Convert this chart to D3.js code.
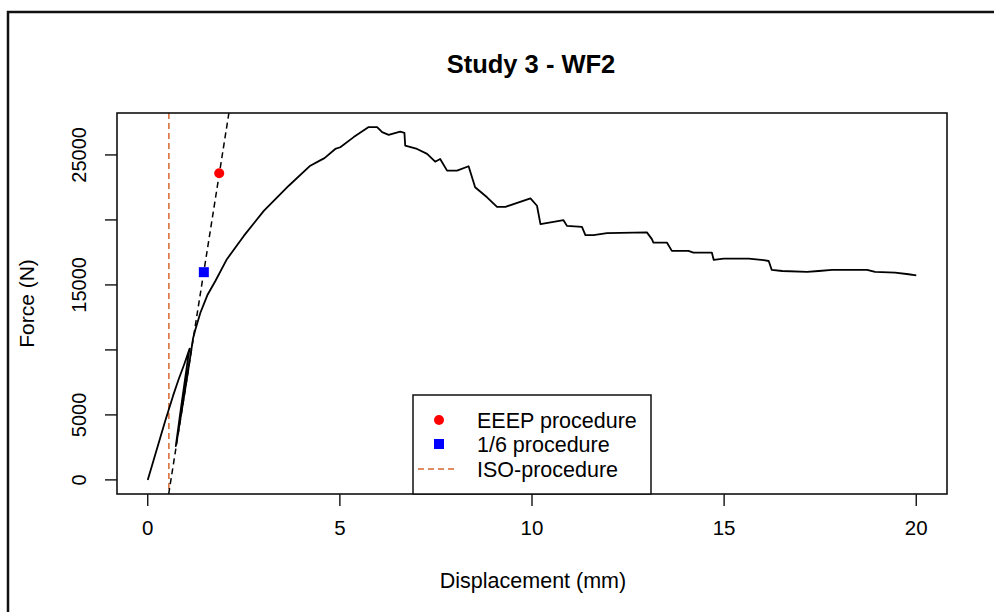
<!DOCTYPE html>
<html>
<head>
<meta charset="utf-8">
<script src="https://cdn.jsdelivr.net/npm/d3@7"></script>
<style>
  body { margin: 0; background: #fff; }
  text { font-family: "Liberation Sans", Arial, sans-serif; fill: #000; }
</style>
</head>
<body>
<script>
var width = 994;
var height = 612;

// force-displacement curve (mm, N)
var dispMm = [0, 0.15, 0.3, 0.45, 0.66, 0.8, 0.95, 1.09,
    1.06, 0.95, 0.84, 0.73,
    0.78, 0.9, 1.02, 1.13, 1.18,
    1.24, 1.37, 1.55, 1.76, 2.06, 2.5, 3.02, 3.67, 4.23, 4.5, 4.6, 4.88,
    5.01, 5.36, 5.75, 5.97, 6.1, 6.27, 6.57, 6.68, 6.7, 7.01, 7.27, 7.48, 7.61,
    7.79, 8.05, 8.35, 8.52, 8.83, 9.09, 9.31, 9.96, 10.13, 10.22, 10.56, 10.82,
    10.91, 11.3, 11.39, 11.6, 11.95, 12.99, 13.12, 13.16, 13.51, 13.64, 14.07,
    14.2, 14.68, 14.73, 14.99, 15.64, 16.03, 16.16, 16.24, 16.51, 17.16, 17.46,
    17.81, 18.72, 18.93, 19.45, 19.8, 20.0];
var forceN = [0, 1500, 3000, 4500, 6480, 7700, 8900, 10100,
    9600, 7300, 5000, 2600,
    3400, 5600, 7800, 9900, 10900,
    11570, 12860, 14200, 15300, 16980, 18770, 20700, 22630, 24170, 24600, 24750, 25460,
    25590, 26370, 27140, 27140, 26750, 26540, 26800, 26700, 25720, 25460, 25080, 24480, 24690,
    23790, 23790, 24130, 22510, 21740, 21010, 21010, 21660, 21090, 19680, 19850, 19980,
    19540, 19470, 18830, 18830, 18980, 19040, 18520, 18260, 18260, 17620, 17620,
    17490, 17490, 16920, 17030, 17030, 16900, 16840, 16150, 16070, 16000, 16070,
    16150, 16150, 16000, 15950, 15820, 15740];

// elastic stiffness line (N/mm) and its x-intercept
var stiffness = 18700;
var stiffX0 = 0.603;

// special points
var eeepPoint = [1.86, 23590];
var sixthPoint = [1.46, 15980];
var isoX = 0.55;

var xTicks = [0, 5, 10, 15, 20];
var yTicks = [0, 5000, 10000, 15000, 20000, 25000];
var yTickLabels = ['0', '5000', '', '15000', '', '25000'];

var legendLabels = ['EEEP procedure', '1/6 procedure', 'ISO-procedure'];

var plotLeft = 117, plotRight = 947, plotTop = 113, plotBottom = 494;
var isoColor = '#D8672E';

var svg = d3.select('body')
    .append('svg')
    .attr('width', width)
    .attr('height', height);

// outer frame
svg.append('rect')
    .attr('x', 8)
    .attr('y', 12)
    .attr('width', 1100)
    .attr('height', 700)
    .attr('fill', 'none')
    .attr('stroke', '#111')
    .attr('stroke-width', 2.5);

// R-style 4% padding of the data range
function padded(ext) {
    var r = ext[1] - ext[0];
    return [ext[0] - 0.04 * r, ext[1] + 0.04 * r];
}

var xScale = d3.scaleLinear()
    .domain(padded(d3.extent(dispMm)))
    .range([plotLeft, plotRight]);

var yScale = d3.scaleLinear()
    .domain(padded(d3.extent(forceN)))
    .range([plotBottom, plotTop]);

svg.append('clipPath')
    .attr('id', 'plotclip')
    .append('rect')
    .attr('x', plotLeft)
    .attr('y', plotTop)
    .attr('width', plotRight - plotLeft)
    .attr('height', plotBottom - plotTop);

var plot = svg.append('g').attr('clip-path', 'url(#plotclip)');

// ISO vertical line
plot.append('line')
    .attr('x1', xScale(isoX))
    .attr('x2', xScale(isoX))
    .attr('y1', plotTop)
    .attr('y2', plotBottom)
    .attr('stroke', isoColor)
    .attr('stroke-width', 1.5)
    .attr('stroke-dasharray', '6,4');

// curve
var curve = dispMm.map(function (d, i) { return [d, forceN[i]]; });
var line = d3.line()
    .x(function (d) { return xScale(d[0]); })
    .y(function (d) { return yScale(d[1]); });

plot.append('path')
    .datum(curve)
    .attr('d', line)
    .attr('fill', 'none')
    .attr('stroke', '#000')
    .attr('stroke-width', 1.8)
    .attr('stroke-linejoin', 'round');

// stiffness line
var yDom = yScale.domain();
var stiffLine = [yDom[0], yDom[1] + 2000].map(function (f) {
    return [stiffX0 + f / stiffness, f];
});
plot.append('path')
    .datum(stiffLine)
    .attr('d', line)
    .attr('fill', 'none')
    .attr('stroke', '#000')
    .attr('stroke-width', 1.5)
    .attr('stroke-dasharray', '6,4');

plot.append('circle')
    .attr('cx', xScale(eeepPoint[0]))
    .attr('cy', yScale(eeepPoint[1]))
    .attr('r', 5)
    .attr('fill', '#FF0000');

plot.append('rect')
    .attr('x', xScale(sixthPoint[0]) - 5)
    .attr('y', yScale(sixthPoint[1]) - 5)
    .attr('width', 10)
    .attr('height', 10)
    .attr('fill', '#0000FF');

// plot box
svg.append('rect')
    .attr('x', plotLeft)
    .attr('y', plotTop)
    .attr('width', plotRight - plotLeft)
    .attr('height', plotBottom - plotTop)
    .attr('fill', 'none')
    .attr('stroke', '#111')
    .attr('stroke-width', 1.6);

// x axis
svg.selectAll('.xtick')
    .data(xTicks)
    .enter()
    .append('line')
    .attr('x1', function (d) { return xScale(d); })
    .attr('x2', function (d) { return xScale(d); })
    .attr('y1', plotBottom)
    .attr('y2', plotBottom + 12)
    .attr('stroke', '#111')
    .attr('stroke-width', 1.4);

svg.selectAll('.xlab')
    .data(xTicks)
    .enter()
    .append('text')
    .attr('x', function (d) { return xScale(d); })
    .attr('y', 535)
    .attr('text-anchor', 'middle')
    .style('font-size', '20.5px')
    .text(function (d) { return d; });

// y axis
svg.selectAll('.ytick')
    .data(yTicks)
    .enter()
    .append('line')
    .attr('x1', plotLeft - 12)
    .attr('x2', plotLeft)
    .attr('y1', function (d) { return yScale(d); })
    .attr('y2', function (d) { return yScale(d); })
    .attr('stroke', '#111')
    .attr('stroke-width', 1.4);

svg.selectAll('.ylab')
    .data(yTicks)
    .enter()
    .append('text')
    .attr('transform', function (d) {
        return 'translate(86,' + yScale(d) + ') rotate(-90)';
    })
    .attr('text-anchor', 'middle')
    .style('font-size', '20px')
    .text(function (d, i) { return yTickLabels[i]; });

// titles
svg.append('text')
    .attr('x', (plotLeft + plotRight) / 2 - 1)
    .attr('y', 73)
    .attr('text-anchor', 'middle')
    .style('font-size', '25.5px')
    .style('font-weight', 'bold')
    .text('Study 3 - WF2');

svg.append('text')
    .attr('x', (plotLeft + plotRight) / 2 + 1)
    .attr('y', 588)
    .attr('text-anchor', 'middle')
    .style('font-size', '21.5px')
    .text('Displacement (mm)');

svg.append('text')
    .attr('transform', 'translate(34,' + (plotTop + plotBottom) / 2 + ') rotate(-90)')
    .attr('text-anchor', 'middle')
    .style('font-size', '21px')
    .text('Force (N)');

// legend
var legend = svg.append('g');
legend.append('rect')
    .attr('x', 413)
    .attr('y', 395)
    .attr('width', 238)
    .attr('height', plotBottom - 395)
    .attr('fill', '#fff')
    .attr('stroke', '#111')
    .attr('stroke-width', 1.5);

var rowY = [420, 444, 469];
legend.append('circle')
    .attr('cx', 439).attr('cy', rowY[0]).attr('r', 5)
    .attr('fill', '#FF0000');
legend.append('rect')
    .attr('x', 434).attr('y', rowY[1] - 5)
    .attr('width', 10).attr('height', 10)
    .attr('fill', '#0000FF');
legend.append('line')
    .attr('x1', 418).attr('x2', 458)
    .attr('y1', rowY[2]).attr('y2', rowY[2])
    .attr('stroke', isoColor)
    .attr('stroke-width', 1.5)
    .attr('stroke-dasharray', '6,4');

legend.selectAll('.legtext')
    .data(legendLabels)
    .enter()
    .append('text')
    .attr('x', 477)
    .attr('y', function (d, i) { return rowY[i]; })
    .attr('dy', '0.36em')
    .style('font-size', '21.5px')
    .text(function (d) { return d; });
</script>
</body>
</html>
